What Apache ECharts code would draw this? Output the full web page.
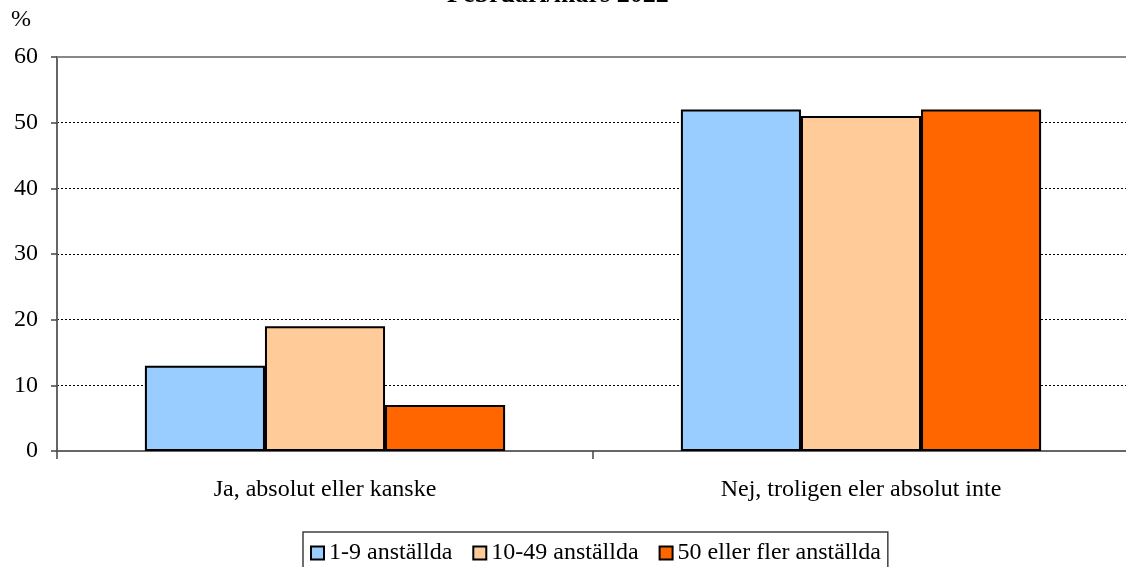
<!DOCTYPE html>
<html>
<head>
<meta charset="utf-8">
<script src="https://cdn.jsdelivr.net/npm/echarts@6/dist/echarts.min.js"></script>
<style>
html,body{margin:0;padding:0;background:#fff;overflow:hidden;}
#chart{width:1134px;height:567px;}
</style>
</head>
<body>
<div id="chart"></div>
<script>
const categories = ['Ja, absolut eller kanske', 'Nej, troligen eler absolut inte'];
const seriesNames = ['1-9 anställda', '10-49 anställda', '50 eller fler anställda'];
const small = [13, 52];
const medium = [19, 51];
const large = [7, 52];
const seriesColors = ['#99CCFF', '#FFCC99', '#FF6600'];
const yTicks = { min: 0, max: 60, interval: 10 };
const titleText = 'Februari/mars 2022';
const unitText = '%';

const font = 'Liberation Serif, Times New Roman, serif';
const seriesValues = [small, medium, large];

const chart = echarts.init(document.getElementById('chart'));
chart.setOption({
  animation: false,
  backgroundColor: '#fff',
  title: {
    text: titleText,
    left: 442,
    top: -23,
    textStyle: { fontFamily: font, fontSize: 26, fontWeight: 'bold', color: '#000' }
  },
  graphic: [{
    type: 'text',
    left: 11,
    top: 8,
    style: { text: unitText, font: '24px ' + font, fill: '#000' }
  }],
  legend: {
    data: seriesNames,
    left: 303,
    top: 532,
    padding: [9, 7, 9, 7],
    itemGap: 20,
    itemWidth: 13,
    itemHeight: 13,
    icon: 'rect',
    borderColor: '#404040',
    borderWidth: 1.5,
    textStyle: { fontFamily: font, fontSize: 24, color: '#000' }
  },
  grid: {
    left: 57,
    top: 57,
    width: 1072,
    bottom: 116
  },
  xAxis: {
    type: 'category',
    data: categories,
    axisLine: { lineStyle: { color: '#666', width: 2 } },
    axisTick: { show: true, length: 8, lineStyle: { color: '#444', width: 1.5 } },
    axisLabel: { fontFamily: font, fontSize: 24, color: '#000', margin: 27 }
  },
  yAxis: {
    type: 'value',
    min: yTicks.min,
    max: yTicks.max,
    interval: yTicks.interval,
    axisLine: { show: true, lineStyle: { color: '#666', width: 2 } },
    axisTick: { show: true, length: 6, lineStyle: { color: '#444', width: 1.5 } },
    axisLabel: { fontFamily: font, fontSize: 24, color: '#000', margin: 19 },
    splitLine: {
      show: true,
      showMinLine: false,
      showMaxLine: false,
      lineStyle: { color: '#000', type: [2, 2], width: 1 }
    }
  },
  series: seriesNames.map((name, i) => ({
    name: name,
    type: 'bar',
    data: seriesValues[i],
    barGap: '0%',
    barCategoryGap: '32.8%',
    itemStyle: { color: seriesColors[i], borderColor: '#000', borderWidth: 2 },
    markLine: i === 0 ? {
      silent: true,
      symbol: 'none',
      label: { show: false },
      lineStyle: { color: '#888888', width: 2, type: 'solid' },
      data: [{ yAxis: yTicks.max }]
    } : undefined
  }))
});
</script>
</body>
</html>
